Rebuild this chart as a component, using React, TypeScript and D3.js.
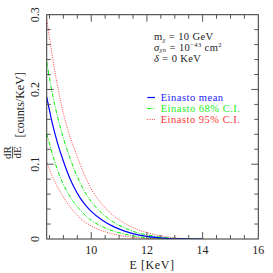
import React from "react";
import * as d3 from "d3";

const energy = [8.4, 8.6, 8.8, 9.0, 9.2, 9.4, 9.6, 9.8, 10.0, 10.4, 10.8, 11.2, 11.6, 12.0, 12.4, 12.8, 13.2, 13.6, 14.0];
const meanRate = [0.19, 0.155, 0.127, 0.104, 0.084, 0.068, 0.055, 0.045, 0.037, 0.025, 0.0165, 0.0105, 0.0062, 0.0035, 0.0018, 0.0007, 0.0002, 0.0, 0.0];
const ci68Upper = [0.237, 0.195, 0.162, 0.135, 0.112, 0.092, 0.075, 0.061, 0.05, 0.034, 0.0225, 0.0148, 0.009, 0.0055, 0.003, 0.0014, 0.0005, 0.0001, 0.0];
const ci68Lower = [0.141, 0.114, 0.091, 0.073, 0.059, 0.048, 0.039, 0.031, 0.025, 0.0165, 0.0105, 0.0065, 0.0035, 0.0018, 0.0008, 0.0002, 0.0, 0.0, 0.0];
const ci95Upper = [0.295, 0.245, 0.203, 0.168, 0.141, 0.12, 0.1, 0.082, 0.067, 0.046, 0.031, 0.021, 0.0135, 0.0085, 0.005, 0.0025, 0.001, 0.0003, 0.0];
const ci95Lower = [0.103, 0.084, 0.069, 0.056, 0.045, 0.036, 0.028, 0.022, 0.0175, 0.011, 0.0065, 0.0037, 0.0019, 0.0009, 0.0003, 0.0, 0.0, 0.0, 0.0];

const xDomain = [8.4, 16];
const yDomain = [0, 0.3];
const xMajorTicks = [10, 12, 14, 16];
const yMajorTicks = [0, 0.1, 0.2, 0.3];
const legendLabels = ["Einasto mean", "Einasto 68% C.I.", "Einasto 95% C.I."];

const FONT = "'Liberation Serif', 'Times New Roman', serif";

export default function App() {
  const L = 46.7, R = 258.3, T = 14.7, B = 239;
  const x = d3.scaleLinear().domain(xDomain).range([L, R]);
  const y = d3.scaleLinear().domain(yDomain).range([B, T]);

  const line = (vals: number[]) =>
    d3
      .line<number>()
      .x((_, i) => x(energy[i]))
      .y((v) => y(v))
      .curve(d3.curveMonotoneX)(vals) as string;

  const xMinor = d3.range(8.5, 16.001, 0.5).filter((v) => Math.abs(v / 2 - Math.round(v / 2)) > 1e-6);
  const yMinor = d3.range(0.02, 0.3, 0.02).filter((v) => Math.abs(v * 10 - Math.round(v * 10)) > 1e-6);
  const xMajIn = xMajorTicks.filter((v) => v > xDomain[0] && v < xDomain[1]);
  const yMajIn = yMajorTicks.filter((v) => v > yDomain[0] && v < yDomain[1]);

  const tickColor = "#555";
  const maj = 7, mnr = 4;

  const series = [
    { vals: ci95Upper, color: "#ff2222", dash: "1,1.3", w: 0.85 },
    { vals: ci95Lower, color: "#ff2222", dash: "1,1.3", w: 0.85 },
    { vals: ci68Upper, color: "#00ee00", dash: "4,1.5,1,1.5", w: 1 },
    { vals: ci68Lower, color: "#00ee00", dash: "4,1.5,1,1.5", w: 1 },
    { vals: meanRate, color: "#0000ff", dash: null, w: 1.2 },
  ];

  const legend = [
    { label: legendLabels[0], color: "#0000ff", textColor: "#2222ff", dash: null, w: 1.2 },
    { label: legendLabels[1], color: "#00ee00", textColor: "#22ee22", dash: "4,1.5,1,1.5", w: 1 },
    { label: legendLabels[2], color: "#ff2222", textColor: "#ff3333", dash: "1,1.3", w: 0.85 },
  ];

  return (
    <svg
      width={273}
      height={273}
      style={{ position: "absolute", left: 0, top: 0, background: "#fff" }}
      fontFamily={FONT}
    >
      <rect x={0} y={0} width={273} height={273} fill="#fff" />
      <defs>
        <clipPath id="plotclip">
          <rect x={L} y={T} width={R - L} height={B - T} />
        </clipPath>
      </defs>

      {/* curves */}
      <g clipPath="url(#plotclip)">
        {series.map((s, i) => (
          <path
            key={i}
            d={line(s.vals)}
            fill="none"
            stroke={s.color}
            strokeWidth={s.w}
            strokeDasharray={s.dash || undefined}
          />
        ))}
      </g>

      {/* frame */}
      <rect x={L} y={T} width={R - L} height={B - T} fill="none" stroke="#333" strokeWidth={1} />

      {/* x ticks bottom & top */}
      {xMinor.map((v) => (
        <g key={"xm" + v}>
          <line x1={x(v)} x2={x(v)} y1={B} y2={B - mnr} stroke={tickColor} />
          <line x1={x(v)} x2={x(v)} y1={T} y2={T + mnr} stroke={tickColor} />
        </g>
      ))}
      {xMajIn.map((v) => (
        <g key={"xM" + v}>
          <line x1={x(v)} x2={x(v)} y1={B} y2={B - maj} stroke={tickColor} />
          <line x1={x(v)} x2={x(v)} y1={T} y2={T + maj} stroke={tickColor} />
        </g>
      ))}
      {/* y ticks left & right */}
      {yMinor.map((v) => (
        <g key={"ym" + v}>
          <line x1={L} x2={L + mnr} y1={y(v)} y2={y(v)} stroke={tickColor} />
          <line x1={R} x2={R - mnr} y1={y(v)} y2={y(v)} stroke={tickColor} />
        </g>
      ))}
      {yMajIn.map((v) => (
        <g key={"yM" + v}>
          <line x1={L} x2={L + maj} y1={y(v)} y2={y(v)} stroke={tickColor} />
          <line x1={R} x2={R - maj} y1={y(v)} y2={y(v)} stroke={tickColor} />
        </g>
      ))}

      {/* x tick labels */}
      {xMajorTicks.map((v) => (
        <text key={"xl" + v} x={x(v)} y={254} fontSize={12} textAnchor="middle" fill="#222">
          {v}
        </text>
      ))}
      {/* y tick labels (rotated) */}
      {yMajorTicks.map((v) => (
        <text
          key={"yl" + v}
          transform={`translate(38.5,${y(v)}) rotate(-90)`}
          fontSize={12}
          textAnchor="middle"
          fill="#222"
        >
          {v === 0 ? "0" : d3.format(".1f")(v)}
        </text>
      ))}

      {/* x axis title */}
      <text x={152} y={269} fontSize={12} textAnchor="middle" fill="#222" letterSpacing={0.6}>
        E [KeV]
      </text>

      {/* y axis title */}
      <g transform="rotate(-90)" fill="#222">
        <text x={-152.5} y={11} fontSize={11} textAnchor="middle">dR</text>
        <line x1={-158.5} x2={-146.5} y1={12.6} y2={12.6} stroke="#222" strokeWidth={0.8} />
        <text x={-152.5} y={20.6} fontSize={11} textAnchor="middle">dE</text>
        <text x={-104.8} y={23.5} fontSize={12} textAnchor="middle">[counts/KeV]</text>
      </g>

      {/* annotation */}
      <g fontSize={10.5} fill="#222" letterSpacing={0.4}>
        <text x={154} y={40}>
          m<tspan fontSize={6.5} fontStyle="italic" dy={1.5}>χ</tspan>
          <tspan dy={-1.5}> = 10 GeV</tspan>
        </text>
        <text x={154} y={50.5}>
          <tspan fontStyle="italic">σ</tspan>
          <tspan fontSize={6.5} fontStyle="italic" dy={1.5}>χn</tspan>
          <tspan dy={-1.5}> = 10</tspan>
          <tspan fontSize={6.5} dy={-3.5}>−43</tspan>
          <tspan dy={3.5}> cm</tspan>
          <tspan fontSize={6.5} dy={-3.5}>2</tspan>
        </text>
        <text x={154} y={62}>
          <tspan fontStyle="italic">δ</tspan> = 0 KeV
        </text>
      </g>

      {/* legend */}
      {legend.map((l, i) => {
        const yy = 97.5 + i * 11;
        return (
          <g key={"lg" + i}>
            <line
              x1={147.3}
              x2={155}
              y1={yy}
              y2={yy}
              stroke={l.color}
              strokeWidth={l.w}
              strokeDasharray={l.dash || undefined}
            />
            <text x={160.7} y={yy + 3.5} fontSize={10.5} fill={l.textColor} letterSpacing={0.5}>
              {l.label}
            </text>
          </g>
        );
      })}
    </svg>
  );
}
